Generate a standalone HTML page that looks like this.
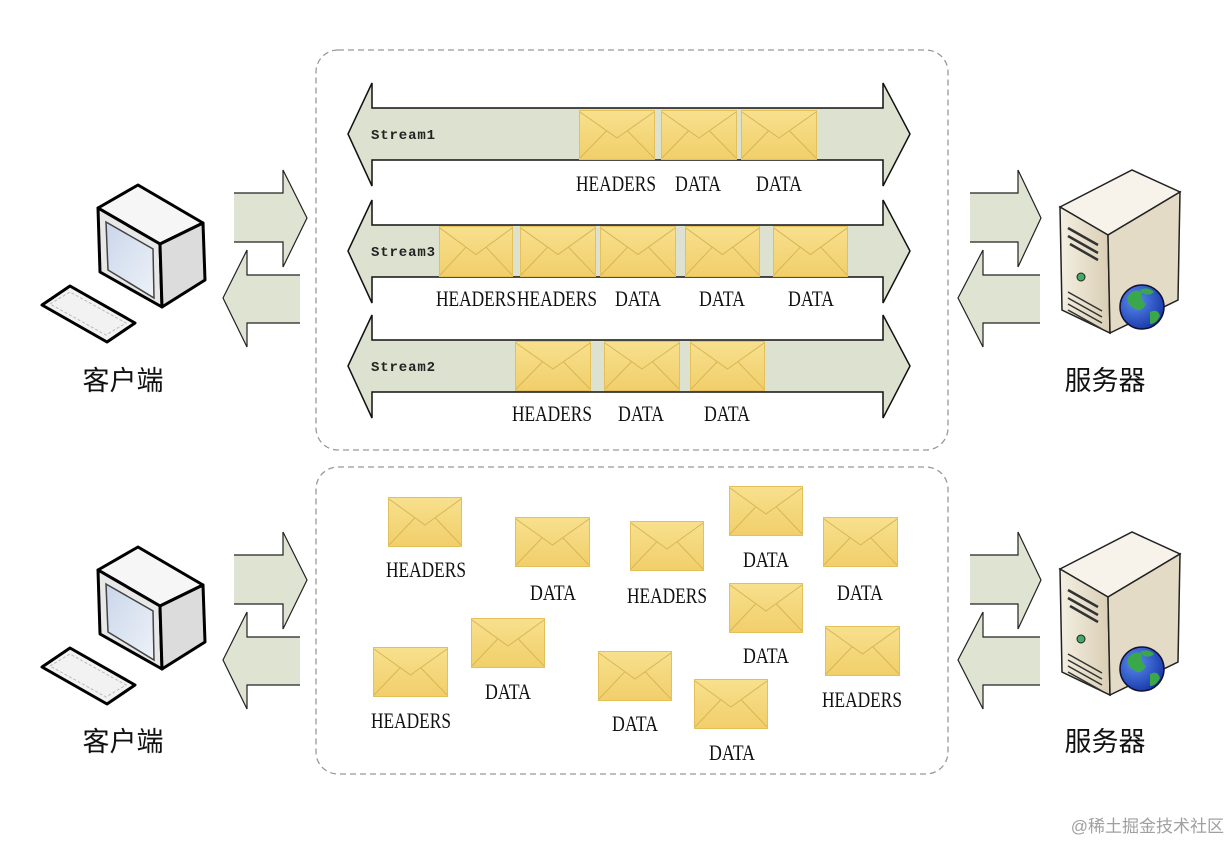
<!DOCTYPE html>
<html><head><meta charset="utf-8"><style>
html,body{margin:0;padding:0;background:#fff;}
svg{display:block;}
.lbl{font-family:"Liberation Serif",serif;font-size:22px;fill:#111;text-anchor:middle;}
.st{font-family:"Liberation Mono",monospace;font-size:14px;font-weight:bold;fill:#222;}
.cn{font-family:"Liberation Sans","Noto Sans CJK SC",sans-serif;font-size:27px;fill:#111;text-anchor:middle;}
</style></head><body>
<svg width="1231" height="842" viewBox="0 0 1231 842" xmlns="http://www.w3.org/2000/svg">
<defs>
<linearGradient id="env" x1="0" y1="0" x2="0" y2="1"><stop offset="0" stop-color="#f8e08e"/><stop offset="1" stop-color="#f1cf6a"/></linearGradient>
<linearGradient id="scr" x1="0" y1="0" x2="1" y2="1"><stop offset="0" stop-color="#c9d6ea"/><stop offset="1" stop-color="#eef2f8"/></linearGradient>
<linearGradient id="srv" x1="0" y1="0" x2="1" y2="0"><stop offset="0" stop-color="#f4efe2"/><stop offset="1" stop-color="#d9ceb4"/></linearGradient>
<radialGradient id="glb" cx="0.35" cy="0.35" r="0.7"><stop offset="0" stop-color="#5a8cf0"/><stop offset="1" stop-color="#1838a8"/></radialGradient>
<symbol id="e" viewBox="0 0 75 50" preserveAspectRatio="none">
<rect x="0.5" y="0.5" width="74" height="49" fill="url(#env)" stroke="#e4c05a"/>
<polyline points="1,2 37.5,28 74,2" fill="none" stroke="#d8b654" stroke-width="1"/>
<line x1="1" y1="48" x2="27" y2="21" stroke="#d8b654"/>
<line x1="74" y1="48" x2="48" y2="21" stroke="#d8b654"/>
</symbol>
<g id="client">
<polygon points="138,185 98,208 160,244 203,223" fill="#f6f6f6" stroke="#000" stroke-width="3" stroke-linejoin="round"/>
<polygon points="98,208 160,244 162,307 100,272" fill="#e8e8e8" stroke="#000" stroke-width="3" stroke-linejoin="round"/>
<polygon points="160,244 203,223 205,280 162,307" fill="#dcdcdc" stroke="#000" stroke-width="3" stroke-linejoin="round"/>
<polygon points="106,222 153,249 154,298 108,270" fill="url(#scr)" stroke="#444" stroke-width="1.5"/>
<polygon points="42,305 70,286 135,323 107,342" fill="#f2f2f2" stroke="#000" stroke-width="3" stroke-linejoin="round"/>
<polygon points="50,304 70,292 126,323 106,335" fill="none" stroke="#bbb" stroke-width="1" stroke-dasharray="3,2"/>
</g>
<g id="server">
<polygon points="1060,207 1132,170 1180,192 1108,235" fill="#f7f3ea" stroke="#222" stroke-width="1.5"/>
<polygon points="1060,207 1108,235 1110,333 1062,310" fill="url(#srv)" stroke="#222" stroke-width="1.5"/>
<polygon points="1108,235 1180,192 1178,300 1110,333" fill="#e4dbc6" stroke="#222" stroke-width="1.5"/>
<path d="M1068,228 l30,17 M1068,236 l30,17 M1070,244 l28,16" stroke="#333" stroke-width="2.5"/>
<circle cx="1081" cy="277" r="4" fill="#4a6" stroke="#222"/>
<path d="M1068,292 l34,19 M1068,298 l34,19 M1068,304 l34,19 M1068,310 l34,19" stroke="#333" stroke-width="1.5"/>
<circle cx="1142" cy="307" r="22" fill="url(#glb)" stroke="#113" stroke-width="1.5"/>
<path d="M1128,296 q6,-8 14,-4 q-2,8 4,12 q-6,10 -12,4 q-8,-4 -6,-12z M1150,312 q8,-4 10,4 q-4,8 -10,8z M1140,290 q8,-4 14,2 q-4,4 -10,2z" fill="#3aa84a"/>
</g>
<g id="sidearrows">
<polygon points="234,193 283,193 283,170 307,218 283,267 283,242 234,242" fill="#dfe3d2"/>
<polyline points="234,193 283,193 283,170 307,218 283,267 283,242 234,242" fill="none" stroke="#222" stroke-width="1.2"/>
<polygon points="300,275 247,275 247,250 223,298 247,347 247,323 300,323" fill="#dfe3d2"/>
<polyline points="300,275 247,275 247,250 223,298 247,347 247,323 300,323" fill="none" stroke="#222" stroke-width="1.2"/>
<polygon points="970,193 1018,193 1018,170 1041,218 1018,267 1018,242 970,242" fill="#dfe3d2"/>
<polyline points="970,193 1018,193 1018,170 1041,218 1018,267 1018,242 970,242" fill="none" stroke="#222" stroke-width="1.2"/>
<polygon points="1040,275 983,275 983,250 958,298 983,347 983,323 1040,323" fill="#dfe3d2"/>
<polyline points="1040,275 983,275 983,250 958,298 983,347 983,323 1040,323" fill="none" stroke="#222" stroke-width="1.2"/>
</g>
</defs>

<rect x="316" y="50" width="632" height="400" rx="22" fill="none" stroke="#999" stroke-dasharray="6,4" stroke-width="1.3"/>
<rect x="316" y="467" width="632" height="307" rx="22" fill="none" stroke="#999" stroke-dasharray="6,4" stroke-width="1.3"/>

<use href="#client"/>
<use href="#client" transform="translate(0,362)"/>
<use href="#server"/>
<use href="#server" transform="translate(0,362)"/>
<use href="#sidearrows"/>
<use href="#sidearrows" transform="translate(0,362)"/>

<text class="cn" x="123" y="390">客户端</text>
<text class="cn" x="123" y="751">客户端</text>
<text class="cn" x="1105" y="390">服务器</text>
<text class="cn" x="1105" y="751">服务器</text>

<polygon points="348,134 372,83 372,108 883,108 883,83 910,134 883,186 883,160 372,160 372,186" fill="#dde2d0" stroke="#111" stroke-width="1.5"/>
<polygon points="348,251 372,200 372,225 883,225 883,200 910,251 883,303 883,277 372,277 372,303" fill="#dde2d0" stroke="#111" stroke-width="1.5"/>
<polygon points="348,366 372,315 372,340 883,340 883,315 910,366 883,418 883,392 372,392 372,418" fill="#dde2d0" stroke="#111" stroke-width="1.5"/>
<text class="st" x="371" y="139" textLength="64">Stream1</text>
<text class="st" x="371" y="256" textLength="64">Stream3</text>
<text class="st" x="371" y="371" textLength="64">Stream2</text>

<use href="#e" x="579" y="110" width="76" height="50"/>
<use href="#e" x="661" y="110" width="76" height="50"/>
<use href="#e" x="741" y="110" width="76" height="50"/>
<use href="#e" x="439" y="226" width="74" height="51"/>
<use href="#e" x="520" y="226" width="76" height="51"/>
<use href="#e" x="600" y="226" width="76" height="51"/>
<use href="#e" x="685" y="226" width="75" height="51"/>
<use href="#e" x="773" y="226" width="75" height="51"/>
<use href="#e" x="515" y="341" width="76" height="50"/>
<use href="#e" x="604" y="341" width="76" height="50"/>
<use href="#e" x="690" y="341" width="75" height="50"/>

<text class="lbl" x="616" y="191" textLength="80" lengthAdjust="spacingAndGlyphs">HEADERS</text>
<text class="lbl" x="698" y="191" textLength="46" lengthAdjust="spacingAndGlyphs">DATA</text>
<text class="lbl" x="779" y="191" textLength="46" lengthAdjust="spacingAndGlyphs">DATA</text>
<text class="lbl" x="476" y="306" textLength="80" lengthAdjust="spacingAndGlyphs">HEADERS</text>
<text class="lbl" x="557" y="306" textLength="80" lengthAdjust="spacingAndGlyphs">HEADERS</text>
<text class="lbl" x="638" y="306" textLength="46" lengthAdjust="spacingAndGlyphs">DATA</text>
<text class="lbl" x="722" y="306" textLength="46" lengthAdjust="spacingAndGlyphs">DATA</text>
<text class="lbl" x="811" y="306" textLength="46" lengthAdjust="spacingAndGlyphs">DATA</text>
<text class="lbl" x="552" y="421" textLength="80" lengthAdjust="spacingAndGlyphs">HEADERS</text>
<text class="lbl" x="641" y="421" textLength="46" lengthAdjust="spacingAndGlyphs">DATA</text>
<text class="lbl" x="727" y="421" textLength="46" lengthAdjust="spacingAndGlyphs">DATA</text>

<use href="#e" x="388" y="497" width="74" height="50"/>
<use href="#e" x="515" y="517" width="75" height="50"/>
<use href="#e" x="630" y="521" width="74" height="50"/>
<use href="#e" x="729" y="486" width="74" height="50"/>
<use href="#e" x="823" y="517" width="75" height="50"/>
<use href="#e" x="729" y="583" width="74" height="50"/>
<use href="#e" x="471" y="618" width="74" height="50"/>
<use href="#e" x="373" y="647" width="75" height="50"/>
<use href="#e" x="598" y="651" width="74" height="50"/>
<use href="#e" x="694" y="679" width="74" height="50"/>
<use href="#e" x="825" y="626" width="75" height="50"/>
<text class="lbl" x="426" y="577" textLength="80" lengthAdjust="spacingAndGlyphs">HEADERS</text>
<text class="lbl" x="553" y="600" textLength="46" lengthAdjust="spacingAndGlyphs">DATA</text>
<text class="lbl" x="667" y="603" textLength="80" lengthAdjust="spacingAndGlyphs">HEADERS</text>
<text class="lbl" x="766" y="567" textLength="46" lengthAdjust="spacingAndGlyphs">DATA</text>
<text class="lbl" x="860" y="600" textLength="46" lengthAdjust="spacingAndGlyphs">DATA</text>
<text class="lbl" x="766" y="663" textLength="46" lengthAdjust="spacingAndGlyphs">DATA</text>
<text class="lbl" x="508" y="699" textLength="46" lengthAdjust="spacingAndGlyphs">DATA</text>
<text class="lbl" x="411" y="728" textLength="80" lengthAdjust="spacingAndGlyphs">HEADERS</text>
<text class="lbl" x="635" y="731" textLength="46" lengthAdjust="spacingAndGlyphs">DATA</text>
<text class="lbl" x="732" y="760" textLength="46" lengthAdjust="spacingAndGlyphs">DATA</text>
<text class="lbl" x="862" y="707" textLength="80" lengthAdjust="spacingAndGlyphs">HEADERS</text>

<text x="1224" y="832" text-anchor="end" style="font-family:'Liberation Sans','Noto Sans CJK SC',sans-serif;font-size:17px;fill:#a0a0a0">@稀土掘金技术社区</text>
</svg>
</body></html>
